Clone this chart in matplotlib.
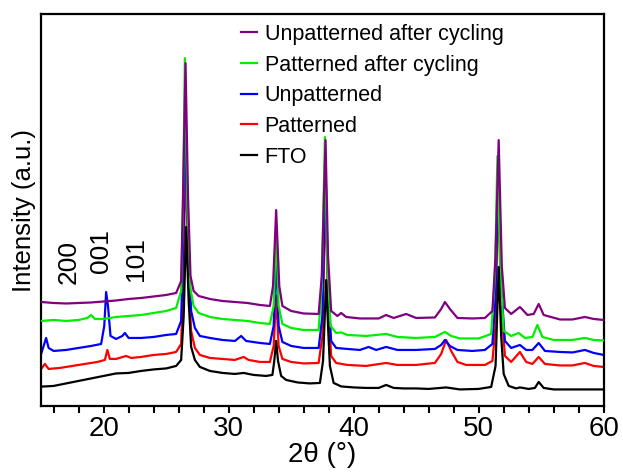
import matplotlib.pyplot as plt

plt.rcParams["font.family"] = ["Liberation Sans", "DejaVu Sans"]

# 2theta (deg) and relative intensity (arb. units)
fto_x = [15, 16, 17, 18, 19, 20, 21, 22, 23, 24, 25, 25.8, 26.2, 26.4, 26.6, 26.8, 27.0, 27.3, 27.7,
         28.5, 29.5, 30.5, 31.2, 32, 33, 33.5, 33.65, 33.8, 33.95, 34.2, 34.6, 35.5, 36.5, 37.3, 37.55,
         37.8, 37.95, 38.1, 38.4, 39, 40, 41, 42, 42.6, 43.2, 44, 45, 46, 47.4, 48.5, 50, 51.0, 51.35,
         51.6, 51.8, 52.0, 52.4, 53, 53.3, 54, 54.5, 54.8, 55.2, 56, 57, 58, 59, 60]
fto_y = [19.3, 20, 22.5, 25, 27.5, 30, 32.5, 33, 35, 36.5, 37.5, 40, 46, 89, 179, 106, 59, 46, 39,
         35, 33, 32, 33, 31, 30, 31, 45, 65, 45, 30, 26, 23.5, 22.5, 23, 45,
         126, 80, 40, 23, 19.5, 18.5, 18, 18, 21, 18, 17.5, 17.5, 17, 18.5, 16.5, 17, 19, 40,
         139, 70, 32, 20, 17.5, 18.5, 17, 18, 24, 18, 16.5, 16.5, 16.5, 16.5, 16.5]

pat_x = [15, 15.3, 15.6, 16.5, 17.5, 18.5, 19.5, 20.1, 20.3, 20.5, 21, 21.8, 22.2, 23, 24, 25, 25.8,
         26.2, 26.4, 26.55, 26.8, 27.0, 27.3, 27.7, 28.5, 29.5, 30.5, 31.2, 31.6, 32.5, 33.3, 33.6,
         33.8, 34.0, 34.3, 35, 36, 37.2, 37.5, 37.75, 37.95, 38.2, 38.6, 39.5, 41, 42.6, 43.5, 45,
         46.5, 47.0, 47.4, 47.8, 48.3, 49, 50.5, 51.1, 51.35, 51.55, 51.8, 52.1, 52.6, 53.3, 53.8,
         54.3, 54.8, 55.3, 56.5, 57.5, 58.5, 59.2, 60]
pat_y = [37, 42, 37, 38, 40, 42, 44, 46, 56, 47, 47, 50, 48, 49, 51, 52, 54,
         62, 140, 250, 130, 75, 58, 51, 48, 47, 46, 49, 46, 44, 44, 60,
         110, 60, 47, 44, 42.5, 43, 70, 210, 110, 50, 43, 41, 40, 43, 41, 41,
         43, 52, 66, 55, 44, 41, 41, 45, 80, 220, 100, 50, 44, 54, 44,
         42, 49, 42, 40.5, 40.5, 43, 40, 39]

unpat_x = [15, 15.2, 15.4, 15.6, 16, 17, 18, 19, 19.8, 20.05, 20.2, 20.35, 20.55, 21, 21.5, 21.7,
           22, 23, 24, 25, 25.8, 26.2, 26.4, 26.55, 26.8, 27.0, 27.3, 27.7, 28.5, 29.5, 30.5, 31.0,
           31.4, 32.5, 33.3, 33.6, 33.8, 34.0, 34.3, 35, 36, 37.2, 37.5, 37.75, 37.95, 38.2, 38.6,
           39.5, 40.5, 41.2, 41.8, 42.6, 43.5, 45, 46.5, 47.0, 47.3, 47.7, 48.3, 49.5, 50.5, 51.1,
           51.35, 51.55, 51.8, 52.1, 52.6, 53.3, 53.8, 54.3, 54.8, 55.3, 56.5, 57.5, 58.5, 59.2, 60]
unpat_y = [52, 60, 68, 58, 55, 56, 58, 60, 62, 80, 114, 100, 70, 67, 70, 73,
           68, 68, 69, 71, 72, 85, 180, 280, 150, 95, 78, 70, 68, 66, 65, 70,
           65, 63, 62, 80, 150, 80, 64, 60, 58, 58, 90, 240, 120, 65, 58,
           57, 56, 59, 56, 59, 56, 56, 57, 61, 66, 60, 56, 55, 56, 62,
           110, 240, 120, 65, 58, 61, 56, 56, 63, 55, 54, 53.5, 56, 53, 51]

pat_cyc_x = [15, 16, 17, 18, 18.7, 19.0, 19.3, 20, 21, 22, 23, 24, 25, 25.8, 26.2, 26.35, 26.5,
             26.7, 26.9, 27.2, 27.6, 28.5, 29.5, 30.5, 31.5, 32.5, 33.3, 33.6, 33.8, 34.0, 34.3,
             35, 36, 37.2, 37.45, 37.7, 37.9, 38.15, 38.6, 39, 39.5, 41, 42.6, 43.5, 45, 46.5,
             47.3, 47.8, 48.5, 50, 51.0, 51.3, 51.5, 51.75, 52.0, 52.6, 53.2, 53.7, 54.3, 54.7,
             55.1, 56, 57.5, 58.5, 59.2, 60]
pat_cyc_y = [85, 86, 85, 86, 88, 91, 87, 87, 89, 90, 91, 93, 95, 98, 115, 200, 348,
             200, 120, 100, 93, 89, 87, 86, 85, 83, 82, 100, 175, 100, 82,
             78, 76, 76, 120, 269, 140, 80, 73, 73.5, 71, 70, 72, 69, 68, 69,
             74, 70, 67.5, 67.5, 72, 130, 250, 130, 75, 70, 73, 68, 69, 81,
             69, 66, 66, 68, 66, 65.5]

unpat_cyc_x = [15, 16, 17, 18, 19, 20, 21, 22, 23, 24, 25, 25.8, 26.2, 26.35, 26.55, 26.75, 26.95,
               27.2, 27.6, 28.5, 29.5, 30.5, 31.5, 32.5, 33.3, 33.55, 33.8, 34.05, 34.3, 35, 36,
               37.2, 37.45, 37.75, 37.95, 38.2, 38.7, 39.0, 39.4, 40.5, 42, 42.6, 43.2, 44.2, 45,
               46.5, 47.0, 47.3, 47.7, 48.3, 49.5, 50.5, 51.1, 51.35, 51.6, 51.85, 52.1, 52.6, 53.3,
               53.9, 54.4, 54.8, 55.2, 56.5, 57.5, 58.5, 59.2, 60]
unpat_cyc_y = [104, 103, 102.5, 103, 103.5, 104.5, 105.5, 107, 108, 109.5, 111, 113, 125, 210, 343, 210, 130,
               115, 110, 107, 105, 104, 103, 101, 100, 120, 196, 120, 100, 95, 92.5,
               92, 130, 266, 150, 95, 90, 93, 89, 87.5, 87.5, 91, 88, 92, 88,
               88.5, 97, 104, 97, 88, 87.5, 88, 95, 150, 266, 140, 98, 92, 99,
               91, 92, 102, 91, 86.5, 86.5, 89, 87, 86]

labels = ["Unpatterned after cycling", "Patterned after cycling", "Unpatterned", "Patterned", "FTO"]
colors = ["#800080", "#00ee00", "#0000ff", "#ff0000", "#000000"]
xs = [unpat_cyc_x, pat_cyc_x, unpat_x, pat_x, fto_x]
ys = [unpat_cyc_y, pat_cyc_y, unpat_y, pat_y, fto_y]
# drawing order: red/blue underneath, then green, purple, black on top
zorders = [4, 3, 2, 1, 5]

peak_names = ["200", "001", "101"]
peak_pos = [17.2, 19.8, 22.6]
peak_base = [122, 133, 125]

fig = plt.figure(figsize=(6.23, 4.72), dpi=100)
ax = fig.add_axes([0.066, 0.14, 0.903, 0.83])

for x, y, c, lab, z in zip(xs, ys, colors, labels, zorders):
    ax.plot(x, y, color=c, lw=1.6, label=lab, zorder=z)

for name, px, py in zip(peak_names, peak_pos, peak_base):
    ax.text(px, py, name, rotation=90, ha="center", va="bottom", fontsize=19)

ax.set_xlim(15, 60)
ax.set_ylim(0, 392)
ax.set_xticks([20, 30, 40, 50, 60])
ax.set_xticks(range(16, 60, 2), minor=True)
ax.tick_params(axis="x", which="both", direction="out", length=5, width=1.5, labelsize=20, pad=2)
ax.set_yticks([])
for s in ax.spines.values():
    s.set_linewidth(1.6)

ax.set_xlabel("2θ (°)", fontsize=20, labelpad=0)
ax.set_ylabel("Intensity (a.u.)", fontsize=18.5, labelpad=4)

ax.legend(loc="upper left", bbox_to_anchor=(0.34, 0.997), frameon=False, fontsize=15.5,
          handlelength=0.75, handletextpad=0.35, labelspacing=0.45, borderaxespad=0)

fig.savefig("out.png", dpi=100)
